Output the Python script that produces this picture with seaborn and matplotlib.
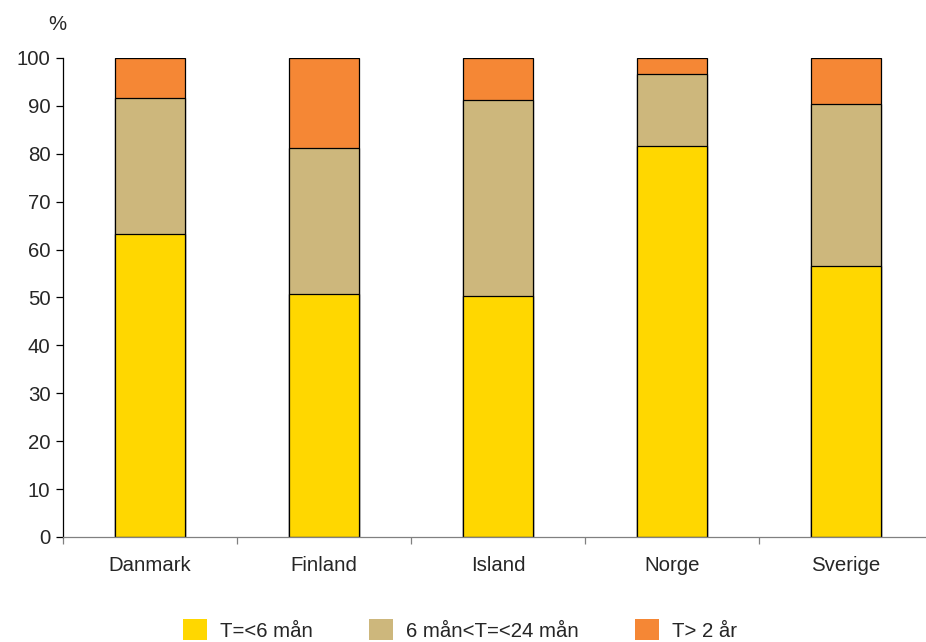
import seaborn as sns
import matplotlib.pyplot as plt
import pandas as pd
from matplotlib.patches import Patch

countries = ["Danmark", "Finland", "Island", "Norge", "Sverige"]
under_6 = [63.3, 50.8, 50.3, 81.6, 56.6]
between_6_24 = [28.3, 30.4, 40.9, 15.1, 33.8]
over_2y = [8.4, 18.8, 8.8, 3.3, 9.6]

labels = ["T=<6 mån", "6 mån<T=<24 mån", "T> 2 år"]
colors = ["#FFD700", "#CDB77C", "#F58735"]

df = pd.DataFrame({
    "Land": countries,
    "a": under_6,
    "b": between_6_24,
    "c": over_2y,
})
df["cum_a"] = df["a"]
df["cum_b"] = df["a"] + df["b"]
df["cum_c"] = df["cum_b"] + df["c"]

sns.set_style("white")
plt.rcParams["font.family"] = ["Liberation Sans", "DejaVu Sans"]
fs = 14.7

fig = plt.figure(figsize=(9.26, 6.42), dpi=100)
ax = fig.add_axes([0.068, 0.1636, 0.9396, 0.7461])

# draw from the top down so each layer covers the one above
for col, color in zip(["cum_c", "cum_b", "cum_a"], colors[::-1]):
    sns.barplot(data=df, x="Land", y=col, color=color, width=0.4,
                edgecolor="black", linewidth=0.9, saturation=1, ax=ax)

ax.set_ylim(0, 100)
ax.set_xlim(-0.5, 4.5)
ax.set_yticks(range(0, 101, 10))
ax.set_xlabel("")
ax.set_ylabel("")
ax.set_xticks([i + 0.5 for i in range(-1, 5)], minor=True)
ax.set_xticks(range(5))
ax.set_xticklabels(countries)
ax.tick_params(axis="x", which="major", bottom=True, length=0, pad=14, labelsize=fs)
ax.tick_params(axis="x", which="minor", bottom=True, length=5, width=0.9,
               color="#808080", direction="out")
ax.tick_params(axis="y", left=True, length=5, width=0.9, color="black",
               direction="out", labelsize=fs, pad=4)

for s in ["top", "right"]:
    ax.spines[s].set_visible(False)
ax.spines["left"].set_color("black")
ax.spines["left"].set_linewidth(0.9)
ax.spines["bottom"].set_color("#808080")
ax.spines["bottom"].set_linewidth(0.9)

fig.text(57 / 926, 1 - 25 / 642, "%", fontsize=fs, ha="center", va="center")

handles = [Patch(facecolor=c, edgecolor="none") for c in colors]
fig.legend(handles, labels, loc="center left", bbox_to_anchor=(183 / 926, 1 - 630 / 642),
           ncol=3, frameon=False, fontsize=fs, handlelength=1.18, handleheight=1.2,
           columnspacing=2.75, handletextpad=0.64, borderpad=0, borderaxespad=0)

fig.savefig("out.png", dpi=100)
